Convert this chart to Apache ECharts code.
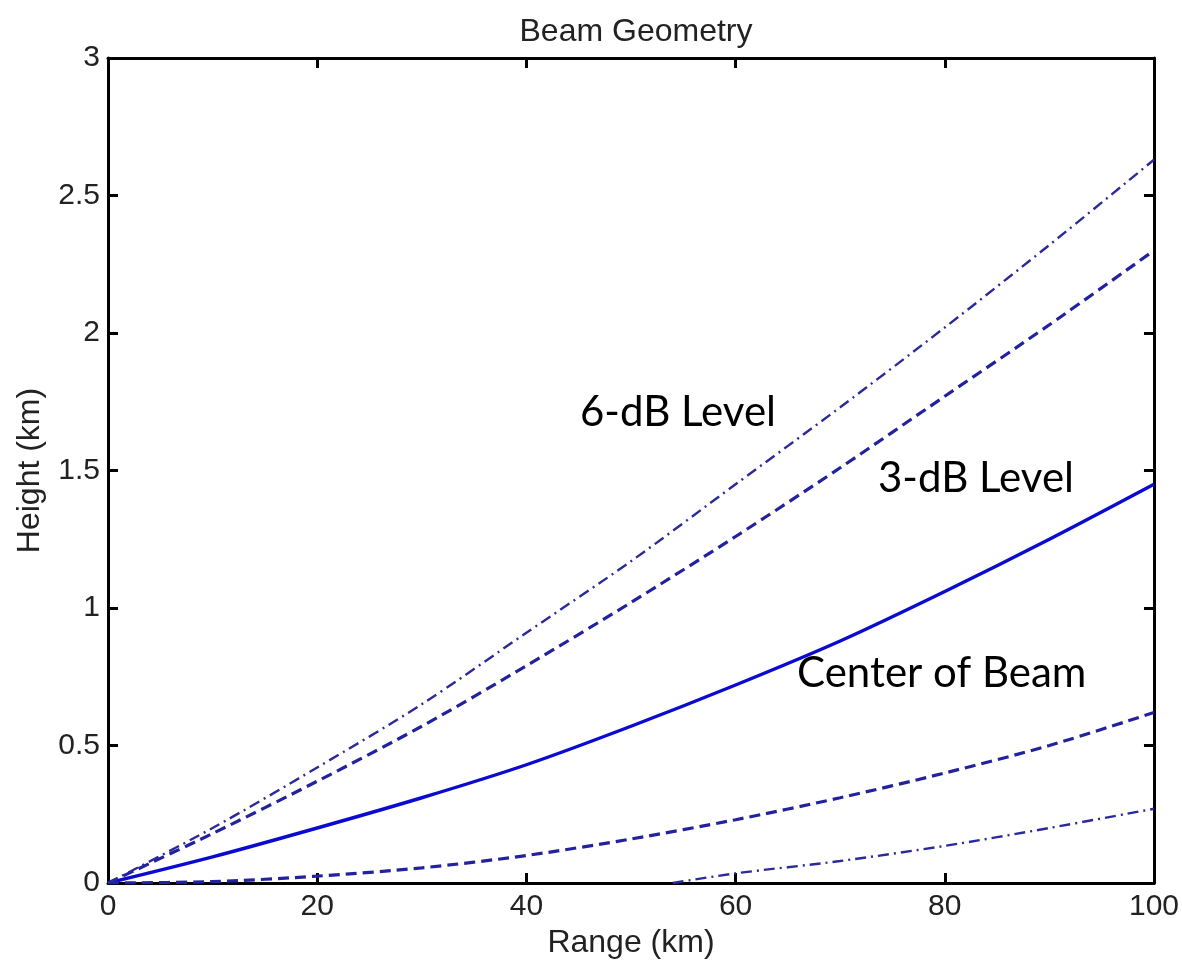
<!DOCTYPE html>
<html>
<head>
<meta charset="utf-8">
<script src="https://cdn.jsdelivr.net/npm/echarts@6/dist/echarts.min.js"></script>
<style>
  html, body { margin: 0; padding: 0; background: #fff; }
  #main { width: 1182px; height: 972px; }
</style>
</head>
<body>
<div id="main"></div>
<script>
// range (km)
var ranges = [0, 10, 20, 30, 40, 50, 60, 70, 80, 90, 100];
// heights (km)
var center = [0, 0.095, 0.20, 0.31, 0.43, 0.57, 0.72, 0.88, 1.06, 1.25, 1.45];
var upper3 = [0, 0.18, 0.37, 0.57, 0.79, 1.02, 1.26, 1.51, 1.77, 2.03, 2.30];
var lower3 = [0, 0.005, 0.025, 0.055, 0.10, 0.16, 0.23, 0.31, 0.40, 0.50, 0.62];
var upper6 = [0, 0.20, 0.42, 0.65, 0.91, 1.17, 1.45, 1.73, 2.02, 2.32, 2.63];
// lower 6-dB edge only shows above ground from ~54 km
var lower6Range = [54, 60, 70, 80, 90, 100];
var lower6 = [0, 0.035, 0.08, 0.135, 0.20, 0.27];

var yTicks = ['0', '0.5', '1', '1.5', '2', '2.5', '3'];

function pairs(xs, ys) {
    return xs.map(function (x, i) { return [x, ys[i]]; });
}

var font = 'Liberation Sans, Arial, Helvetica, sans-serif';
var noteFont = 'Lato, Open Sans, sans-serif';
var axisLine = { show: true, onZero: false, lineStyle: { color: '#000', width: 3 } };
var axisTick = { show: true, inside: true, length: 10, lineStyle: { color: '#000', width: 3 } };

var myChart = echarts.init(document.getElementById('main'));

var option = {
    animation: false,
    backgroundColor: '#fff',
    title: {
        text: 'Beam Geometry',
        left: 631,
        textAlign: 'center',
        top: 11,
        textStyle: { fontFamily: font, fontSize: 32, fontWeight: 'normal', color: '#222' }
    },
    grid: { left: 108, right: 28, top: 58, bottom: 89 },
    xAxis: [
        {
            type: 'value', min: 0, max: 100, interval: 20,
            name: 'Range (km)', nameLocation: 'middle', nameGap: 43,
            nameTextStyle: { fontFamily: font, fontSize: 32, color: '#222' },
            axisLine: axisLine, axisTick: axisTick,
            axisLabel: { fontFamily: font, fontSize: 30, color: '#222', margin: 9 },
            splitLine: { show: false }
        },
        {
            type: 'value', min: 0, max: 100, interval: 20, position: 'top',
            axisLine: axisLine, axisTick: axisTick,
            axisLabel: { show: false }, splitLine: { show: false }
        }
    ],
    yAxis: [
        {
            type: 'value', min: 0, max: 3, interval: 0.5,
            name: 'Height (km)', nameLocation: 'middle', nameGap: 62,
            nameTextStyle: { fontFamily: font, fontSize: 32, color: '#222' },
            axisLine: axisLine, axisTick: axisTick,
            axisLabel: {
                fontFamily: font, fontSize: 30, color: '#222', margin: 8,
                formatter: function (v) { return yTicks[Math.round(v / 0.5)]; }
            },
            splitLine: { show: false }
        },
        {
            type: 'value', min: 0, max: 3, interval: 0.5, position: 'right',
            axisLine: axisLine, axisTick: axisTick,
            axisLabel: { show: false }, splitLine: { show: false }
        }
    ],
    series: [
        {
            name: 'Center of Beam', type: 'line', showSymbol: false, clip: true, smooth: 0.3,
            data: pairs(ranges, center),
            lineStyle: { color: '#0a0ad0', width: 3.4 }
        },
        {
            name: '3-dB upper', type: 'line', showSymbol: false, clip: true, smooth: 0.3,
            data: pairs(ranges, upper3),
            lineStyle: { color: '#22229e', width: 3.2, type: [11, 6] }
        },
        {
            name: '3-dB lower', type: 'line', showSymbol: false, clip: true, smooth: 0.3,
            data: pairs(ranges, lower3),
            lineStyle: { color: '#22229e', width: 3.2, type: [11, 6] }
        },
        {
            name: '6-dB upper', type: 'line', showSymbol: false, clip: true, smooth: 0.3,
            data: pairs(ranges, upper6),
            lineStyle: { color: '#2a2a9a', width: 2.4, type: [11, 5, 2, 5] }
        },
        {
            name: '6-dB lower', type: 'line', showSymbol: false, clip: true, smooth: 0.3,
            data: pairs(lower6Range, lower6),
            lineStyle: { color: '#2a2a9a', width: 2.4, type: [11, 5, 2, 5] }
        }
    ],
    graphic: [
        {
            type: 'text', x: 580, y: 412,
            style: { text: '6-dB Level', font: '42px ' + noteFont, fill: '#000', verticalAlign: 'middle' }
        },
        {
            type: 'text', x: 878, y: 478,
            style: { text: '3-dB Level', font: '42px ' + noteFont, fill: '#000', verticalAlign: 'middle' }
        },
        {
            type: 'text', x: 797, y: 673,
            style: { text: 'Center of Beam', font: '42px ' + noteFont, fill: '#000', verticalAlign: 'middle' }
        }
    ]
};

myChart.setOption(option);
</script>
</body>
</html>
